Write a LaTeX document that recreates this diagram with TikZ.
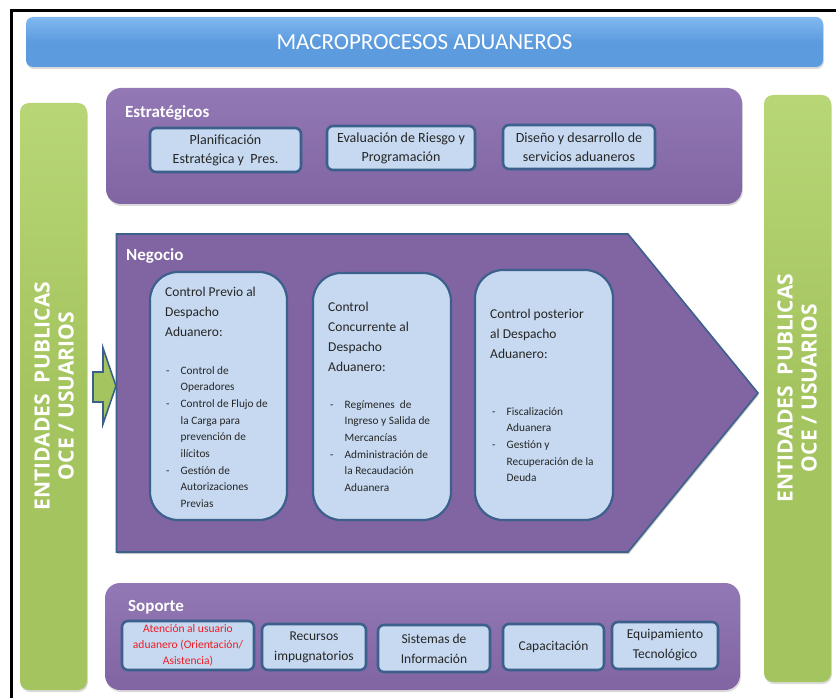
\documentclass[tikz,border=0pt]{standalone}
\usepackage{fontspec}
\setmainfont{Carlito}
\newfontfamily\sidefont{Open Sans}
\usetikzlibrary{shadows}

\definecolor{barblue}{RGB}{92,155,222}
\definecolor{barblueL}{RGB}{128,184,240}
\definecolor{procpurple}{RGB}{128,101,162}
\definecolor{procpurpleL}{RGB}{146,120,180}
\definecolor{sidegreen}{RGB}{164,196,95}
\definecolor{sidegreenL}{RGB}{184,214,118}
\definecolor{cardfill}{RGB}{198,217,240}
\definecolor{cardline}{RGB}{60,96,140}
\definecolor{inktext}{RGB}{38,38,38}
\definecolor{alertred}{RGB}{236,28,36}

% bullet helpers for the control cards
\newcommand{\bitem}{\makebox[14.5pt][l]{-}}
\newcommand{\bcont}{\hspace*{14.5pt}}

\tikzset{
  softshadow/.style={drop shadow={shadow xshift=0.8pt, shadow yshift=-2pt, opacity=0.28}},
  titlebar/.style={rounded corners=7pt, top color=barblueL, bottom color=barblue,
    middle color=barblue, softshadow, inner sep=0pt, text=white,
    font=\fontsize{23}{26}\selectfont},
  groupbox/.style={rounded corners=15pt, top color=procpurpleL, bottom color=procpurple,
    softshadow, inner sep=0pt},
  sidebar/.style={rounded corners=9pt, top color=sidegreenL, bottom color=sidegreen,
    middle color=sidegreen, softshadow, inner sep=0pt},
  sidetext/.style={rotate=90, align=center, text=white, inner sep=0pt,
    font=\sidefont\bfseries\fontsize{21}{24}\selectfont},
  grouptitle/.style={anchor=base west, inner sep=0pt, text=white,
    font=\fontsize{17}{20}\selectfont\bfseries},
  card/.style={draw=cardline, line width=2.6pt, fill=cardfill, rounded corners=6pt,
    text=inktext, align=center, inner sep=0pt},
  ctrlcard/.style={draw=cardline, line width=2.2pt, fill=cardfill, rounded corners=28pt,
    inner sep=0pt},
  ctrlhead/.style={anchor=north west, align=left, inner sep=0pt, text=inktext,
    font=\fontsize{13.5}{20}\selectfont},
  ctrllist/.style={anchor=north west, align=left, inner sep=0pt, text=inktext,
    font=\fontsize{11.3}{16.7}\selectfont},
}

\begin{document}
\begin{tikzpicture}[x=1pt,y=-1pt]
\useasboundingbox (0,0) rectangle (836,698);
\clip (0,0) rectangle (836,698);
\fill[white] (0,0) rectangle (836,698);

% open black frame
\draw[line width=3pt] (11,700) -- (11,11) -- (840,11);

% title bar
\node[titlebar, minimum width=797pt, minimum height=50pt] (title) at (424.5,42)
  {MACROPROCESOS ADUANEROS};

% side bars with vertical captions
\node[sidebar, minimum width=67pt, minimum height=587pt] (leftbar) at (53.5,396.5) {};
\node[sidetext] (lefttext) at (54,396) {ENTIDADES\ \ PUBLICAS\\OCE / USUARIOS};
\node[sidebar, minimum width=67pt, minimum height=587pt] (rightbar) at (797.5,388.5) {};
\node[sidetext] (righttext) at (797,388) {ENTIDADES\ \ PUBLICAS\\OCE / USUARIOS};

% strategic processes
\node[groupbox, minimum width=636pt, minimum height=116pt] (estrat) at (424,146) {};
\node[grouptitle] (estratlbl) at (125,118) {Estratégicos};
\node[card, minimum width=151pt, minimum height=44pt,
  font=\fontsize{14}{19}\selectfont] (plan) at (225.5,150)
  {Planificación\\Estratégica y\ \ Pres.};
\node[card, minimum width=148pt, minimum height=44pt,
  font=\fontsize{14}{19}\selectfont] (riesgo) at (401,148)
  {Evaluación de Riesgo y\\Programación};
\node[card, minimum width=152pt, minimum height=44pt,
  font=\fontsize{14}{19}\selectfont] (diseno) at (579,147)
  {Diseño y desarrollo de\\servicios aduaneros};

% business processes (chevron)
\coordinate (nw) at (116.5,234);
\coordinate (ne) at (628,234);
\coordinate (tip) at (758,393);
\coordinate (se) at (628,552);
\coordinate (sw) at (116.5,552);
\fill[black, opacity=0.22] ([shift={(0.8,2)}]nw) -- ([shift={(0.8,2)}]ne)
  -- ([shift={(0.8,2)}]tip) -- ([shift={(0.8,2)}]se) -- ([shift={(0.8,2)}]sw) -- cycle;
\draw[draw=cardline, line width=1.6pt, fill=procpurple] (nw) -- (ne) -- (tip) -- (se) -- (sw) -- cycle;
\node[grouptitle] (negociolbl) at (126,260) {Negocio};

% input arrow from the left bar
\fill[sidegreen, draw=cardline, line width=1.6pt]
  (93,372) -- (103,372) -- (103,348) -- (116,386) -- (103,424) -- (103,402) -- (93,402) -- cycle;

\node[ctrlcard, minimum width=137pt, minimum height=248pt] (previo) at (218.5,396) {};
\node[ctrlcard, minimum width=138pt, minimum height=247pt] (concurrente) at (382,396.5) {};
\node[ctrlcard, minimum width=138pt, minimum height=250pt] (posterior) at (544,395) {};

\node[ctrlhead] (previoh) at (165,287) {Control Previo al\\Despacho\\Aduanero:};
\node[ctrllist] (previol) at (166,366)
  {\bitem Control de\\\bcont Operadores\\\bitem Control de Flujo de\\\bcont la Carga para\\
   \bcont prevención de\\\bcont ilícitos\\\bitem Gestión de\\\bcont Autorizaciones\\\bcont Previas};

\node[ctrlhead] (concurrenteh) at (328,302) {Control\\Concurrente al\\Despacho\\Aduanero:};
\node[ctrllist] (concurrentel) at (330,400)
  {\bitem Regímenes\ \ de\\\bcont Ingreso y Salida de\\\bcont Mercancías\\
   \bitem Administración de\\\bcont la Recaudación\\\bcont Aduanera};

\node[ctrlhead] (posteriorh) at (490,309) {Control posterior\\al Despacho\\Aduanero:};
\node[ctrllist] (posteriorl) at (492,407)
  {\bitem Fiscalización\\\bcont Aduanera\\\bitem Gestión y\\\bcont Recuperación de la\\\bcont Deuda};

% support processes
\node[groupbox, minimum width=635pt, minimum height=107pt] (soporte) at (422.5,636.5) {};
\node[grouptitle] (soportelbl) at (128,611) {Soporte};
\node[card, minimum width=132pt, minimum height=49pt, text=alertred,
  font=\fontsize{11.5}{16}\selectfont] (atencion) at (188,645.5)
  {Atención al usuario\\aduanero (Orientación/\\Asistencia)};
\node[card, minimum width=104pt, minimum height=46pt,
  font=\fontsize{13.5}{20}\selectfont] (recursos) at (314,647)
  {Recursos\\impugnatorios};
\node[card, minimum width=112pt, minimum height=47pt,
  font=\fontsize{13.5}{20}\selectfont] (sistemas) at (434,648.5)
  {Sistemas de\\Información};
\node[card, minimum width=101pt, minimum height=46pt,
  font=\fontsize{13.5}{20}\selectfont] (capacitacion) at (553.5,647)
  {Capacitación};
\node[card, minimum width=106pt, minimum height=47pt,
  font=\fontsize{13.5}{20}\selectfont] (equipamiento) at (665,645.5)
  {Equipamiento\\Tecnológico};
\end{tikzpicture}
\end{document}
